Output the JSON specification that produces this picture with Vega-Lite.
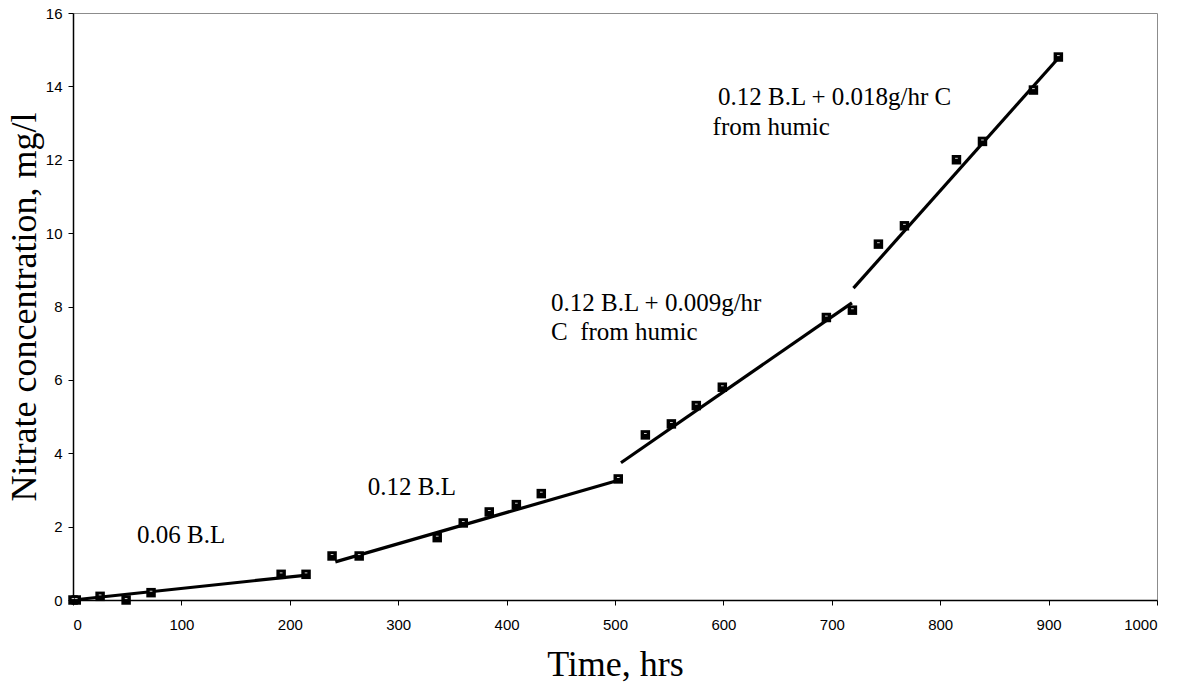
{
  "$schema": "https://vega.github.io/schema/vega-lite/v6.json",
  "width": 1084,
  "height": 587,
  "autosize": {"type": "none"},
  "padding": {"left": 73, "top": 13, "right": 26, "bottom": 87},
  "background": "white",
  "config": {
    "view": {"stroke": "#8c8c8c", "strokeWidth": 1},
    "axis": {
      "grid": false,
      "domainColor": "black",
      "domainWidth": 1.5,
      "tickColor": "black",
      "tickSize": 5,
      "tickWidth": 1,
      "labelFont": "Liberation Sans",
      "labelFontSize": 15,
      "labelColor": "black",
      "titleFont": "Liberation Serif",
      "titleFontSize": 36,
      "titleFontWeight": "normal",
      "titleColor": "black"
    }
  },
  "datasets": {
    "points": [
      {"t": 0, "c": 0}, {"t": 3, "c": 0}, {"t": 25, "c": 0.1}, {"t": 49, "c": 0},
      {"t": 72, "c": 0.2}, {"t": 192, "c": 0.7}, {"t": 215, "c": 0.7},
      {"t": 239, "c": 1.2}, {"t": 264, "c": 1.2}, {"t": 336, "c": 1.7},
      {"t": 360, "c": 2.1}, {"t": 384, "c": 2.4}, {"t": 409, "c": 2.6},
      {"t": 432, "c": 2.9}, {"t": 503, "c": 3.3}, {"t": 528, "c": 4.5},
      {"t": 552, "c": 4.8}, {"t": 575, "c": 5.3}, {"t": 599, "c": 5.8},
      {"t": 695, "c": 7.7}, {"t": 719, "c": 7.9}, {"t": 743, "c": 9.7},
      {"t": 767, "c": 10.2}, {"t": 815, "c": 12.0}, {"t": 839, "c": 12.5},
      {"t": 886, "c": 13.9}, {"t": 909, "c": 14.8}
    ],
    "lines": [
      {"seg": "a", "t": 0, "c": 0.0}, {"seg": "a", "t": 216, "c": 0.68},
      {"seg": "b", "t": 242, "c": 1.04}, {"seg": "b", "t": 504, "c": 3.27},
      {"seg": "c", "t": 505.5, "c": 3.74}, {"seg": "c", "t": 718.6, "c": 8.1},
      {"seg": "d", "t": 720, "c": 8.5}, {"seg": "d", "t": 908.7, "c": 14.76}
    ],
    "labels": [
      {"t": 59, "c": 1.55, "label": "0.06 B.L"},
      {"t": 272, "c": 2.86, "label": "0.12 B.L"},
      {"t": 441, "c": 7.88, "label": "0.12 B.L + 0.009g/hr"},
      {"t": 441, "c": 7.09, "label": "C\u00a0 from humic"},
      {"t": 595, "c": 13.5, "label": "0.12 B.L + 0.018g/hr C"},
      {"t": 590, "c": 12.68, "label": "from humic"}
    ]
  },
  "layer": [
    {
      "data": {"name": "lines"},
      "mark": {"type": "line", "color": "black", "strokeWidth": 3.2},
      "encoding": {
        "x": {
          "field": "t", "type": "quantitative",
          "scale": {"domain": [0, 1000], "nice": false},
          "axis": {
            "values": [0, 100, 200, 300, 400, 500, 600, 700, 800, 900, 1000],
            "format": "d",
            "labelPadding": 12,
            "title": "Time, hrs",
            "titlePadding": 15
          }
        },
        "y": {
          "field": "c", "type": "quantitative",
          "scale": {"domain": [0, 16], "nice": false},
          "axis": {
            "values": [0, 2, 4, 6, 8, 10, 12, 14, 16],
            "format": "d",
            "labelPadding": 6,
            "title": "Nitrate concentration, mg/l",
            "titlePadding": 2
          }
        },
        "detail": {"field": "seg"}
      }
    },
    {
      "data": {"name": "points"},
      "mark": {"type": "point", "shape": "square", "filled": true, "color": "black", "size": 90, "opacity": 1},
      "encoding": {
        "x": {"field": "t", "type": "quantitative"},
        "y": {"field": "c", "type": "quantitative"}
      }
    },
    {
      "data": {"name": "points"},
      "mark": {"type": "point", "shape": "M-0.28,-0.3H0.28", "filled": false, "stroke": "white", "strokeWidth": 0.9, "size": 90, "opacity": 0.9},
      "encoding": {
        "x": {"field": "t", "type": "quantitative"},
        "y": {"field": "c", "type": "quantitative"}
      }
    },
    {
      "data": {"name": "labels"},
      "mark": {"type": "text", "font": "Liberation Serif", "fontSize": 25, "align": "left", "baseline": "alphabetic", "color": "black"},
      "encoding": {
        "x": {"field": "t", "type": "quantitative"},
        "y": {"field": "c", "type": "quantitative"},
        "text": {"field": "label"}
      }
    }
  ]
}
